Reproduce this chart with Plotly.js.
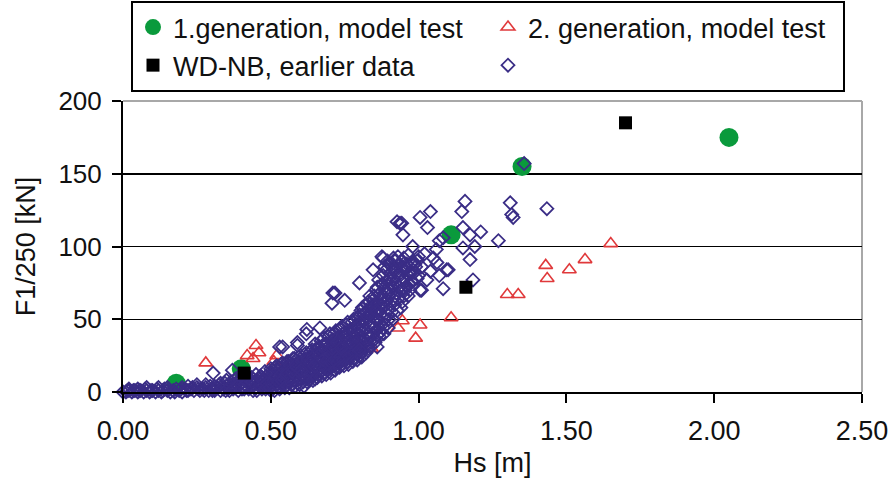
<!DOCTYPE html>
<html>
<head>
<meta charset="utf-8">
<script src="https://cdn.plot.ly/plotly-3.0.1.min.js"></script>
<style>html,body{margin:0;padding:0;background:#fff;}#chart{width:894px;height:482px;}</style>
</head>
<body>
<div id="chart"></div>
<script>
// 1. generation, model test
const gen1Hs = [0.18, 0.40, 1.11, 1.35, 2.05];
const gen1F  = [6, 16, 108, 155, 175];

// 2. generation, model test
const gen2Hs = [0.28, 0.42, 0.45, 0.46, 0.44, 0.52, 0.51, 0.84, 0.93, 0.945, 0.99, 1.005, 1.11, 1.30, 1.337, 1.43, 1.435, 1.51, 1.563, 1.65];
const gen2F  = [20, 25, 32, 27, 23, 25, 21, 30, 44, 49, 37, 46, 51, 67, 67, 87, 78, 84, 91, 102];

// WD-NB, earlier data
const wdHs = [0.41, 1.16, 1.70];
const wdF  = [13, 72, 185];

// Unnamed diamond series [Hs, F]
const diamondPoints = [
 [0.00,0],[0.01,0],[0.02,1],[0.02,2],[0.03,0],[0.04,1],[0.05,0],[0.05,2],[0.06,1],[0.07,0],[0.08,1],[0.08,3],
 [0.09,0],[0.10,1],[0.11,0],[0.12,1],[0.12,3],[0.13,0],[0.14,2],[0.15,1],[0.15,3],[0.16,0],[0.17,1],[0.18,2],
 [0.19,1],[0.20,0],[0.20,3],[0.21,2],[0.22,1],[0.22,4],[0.23,2],[0.24,1],[0.25,3],[0.25,5],[0.26,1],[0.27,2],
 [0.28,3],[0.28,5],[0.29,1],[0.30,2],
 [0.015,1],[0.035,1],[0.055,1],[0.075,2],[0.095,1],[0.115,2],[0.135,1],[0.155,2],[0.175,0],[0.195,2],[0.215,1],
 [0.235,3],[0.255,2],[0.275,1],[0.295,4],
 [0.31,1],[0.31,4],[0.32,3],[0.33,1],[0.33,6],[0.34,2],[0.35,4],[0.35,8],[0.36,1],[0.37,5],[0.38,3],[0.38,9],
 [0.39,1],[0.40,6],[0.40,10],[0.41,2],[0.42,4],[0.42,11],[0.43,7],[0.44,1],[0.44,9],[0.45,3],[0.45,12],[0.46,6],
 [0.47,2],[0.47,10],[0.48,8],[0.48,14],[0.49,4],[0.50,1],[0.50,11],[0.50,16],
 [0.305,3],[0.325,5],[0.345,6],[0.355,2],[0.365,7],[0.375,3],[0.385,6],[0.395,8],[0.405,4],[0.415,8],[0.425,2],
 [0.435,10],[0.445,5],[0.455,8],[0.465,11],[0.475,5],[0.485,11],[0.495,7],[0.495,13],
 [0.3025,1],[0.3125,2],[0.3375,3],[0.3475,1],[0.3625,4],[0.3725,2],[0.3875,4],[0.4025,2],[0.4125,5],[0.4325,4],
 [0.4375,7],[0.4525,1],[0.4625,4],[0.4725,8],[0.4825,2],[0.4875,6],[0.4975,3],
 [0.51,3],[0.51,8],[0.51,14],[0.52,5],[0.52,12],[0.52,18],[0.53,2],[0.53,9],[0.53,16],[0.54,6],[0.54,13],[0.54,20],
 [0.55,4],[0.55,10],[0.55,17],[0.56,7],[0.56,14],[0.56,21],[0.57,5],[0.57,11],[0.57,19],[0.58,8],[0.58,15],[0.58,23],
 [0.59,6],[0.59,12],[0.59,20],[0.60,9],[0.60,17],[0.60,25],
 [0.505,5],[0.505,13],[0.515,10],[0.515,17],[0.525,7],[0.525,15],[0.535,12],[0.535,19],[0.545,9],[0.545,16],
 [0.555,7],[0.555,14],[0.555,21],[0.565,10],[0.565,18],[0.575,8],[0.575,16],[0.575,23],[0.585,11],[0.585,19],
 [0.595,9],[0.595,16],[0.595,24],
 [0.5125,1],[0.5275,4],[0.5375,8],[0.5475,3],[0.5525,12],[0.5625,3],[0.5725,14],[0.5825,4],[0.5875,17],[0.5975,5],
 [0.61,7],[0.61,14],[0.61,22],[0.62,10],[0.62,18],[0.62,27],[0.63,8],[0.63,15],[0.63,24],[0.64,11],[0.64,20],[0.64,29],
 [0.65,9],[0.65,17],[0.65,26],[0.65,33],[0.66,12],[0.66,21],[0.66,30],[0.67,14],[0.67,23],[0.67,35],[0.68,13],[0.68,19],
 [0.68,28],[0.68,37],[0.69,15],[0.69,25],[0.69,33],[0.70,16],[0.70,22],[0.70,30],[0.70,40],
 [0.605,12],[0.605,21],[0.615,10],[0.615,18],[0.615,26],[0.625,13],[0.625,22],[0.635,11],[0.635,19],[0.635,28],
 [0.645,15],[0.645,24],[0.655,13],[0.655,21],[0.655,30],[0.665,16],[0.665,26],[0.675,18],[0.675,28],[0.675,32],
 [0.685,16],[0.685,24],[0.685,33],[0.695,19],[0.695,29],[0.695,38],
 [0.6025,15],[0.6125,4],[0.6225,7],[0.6325,20],[0.6425,8],[0.6475,18],[0.6575,10],[0.6625,25],[0.6725,11],[0.6775,22],
 [0.6875,12],[0.6925,21],
 [0.71,18],[0.71,27],[0.71,36],[0.72,17],[0.72,24],[0.72,32],[0.72,42],[0.73,20],[0.73,29],[0.73,38],[0.74,19],[0.74,26],
 [0.74,35],[0.74,45],[0.75,22],[0.75,31],[0.75,41],[0.76,21],[0.76,28],[0.76,37],[0.76,48],[0.77,24],[0.77,33],[0.77,43],
 [0.78,23],[0.78,30],[0.78,39],[0.78,50],[0.79,26],[0.79,35],[0.79,46],[0.80,25],[0.80,32],[0.80,42],[0.80,53],
 [0.705,20],[0.705,26],[0.705,35],[0.715,22],[0.715,31],[0.715,40],[0.725,20],[0.725,28],[0.725,37],[0.735,24],
 [0.735,33],[0.735,43],[0.745,22],[0.745,30],[0.745,40],[0.755,26],[0.755,36],[0.755,46],[0.765,24],[0.765,32],
 [0.765,42],[0.775,28],[0.775,38],[0.775,48],[0.785,27],[0.785,35],[0.785,45],[0.795,30],[0.795,40],[0.795,51],
 [0.7025,13],[0.7075,30],[0.7175,15],[0.7225,34],[0.7325,17],[0.7375,30],[0.7475,18],[0.7525,38],[0.7625,19],
 [0.7675,34],[0.7775,21],[0.7825,42],[0.7925,22],[0.7975,36],
 [0.81,28],[0.81,38],[0.81,49],[0.81,58],[0.82,31],[0.82,44],[0.82,55],[0.83,30],[0.83,40],[0.83,51],[0.83,62],[0.84,34],
 [0.84,47],[0.84,58],[0.85,36],[0.85,44],[0.85,55],[0.85,66],[0.86,39],[0.86,50],[0.86,62],[0.86,72],[0.87,41],[0.87,53],
 [0.87,68],[0.88,44],[0.88,58],[0.88,74],[0.88,80],[0.89,46],[0.89,62],[0.89,70],[0.89,84],[0.90,50],[0.90,57],[0.90,66],
 [0.90,78],[0.90,88],
 [0.805,29],[0.805,37],[0.805,47],[0.805,56],[0.815,33],[0.815,43],[0.815,53],[0.825,35],[0.825,48],[0.825,60],
 [0.835,37],[0.835,45],[0.835,56],[0.835,66],[0.845,40],[0.845,52],[0.845,63],[0.855,42],[0.855,50],[0.855,60],
 [0.855,70],[0.865,44],[0.865,56],[0.865,67],[0.865,77],[0.875,46],[0.875,60],[0.875,74],[0.885,50],[0.885,65],
 [0.885,86],[0.895,53],[0.895,68],[0.895,76],[0.895,90],
 [0.8075,24],[0.8125,45],[0.8225,27],[0.8275,52],[0.8375,31],[0.8425,60],[0.8525,34],[0.8575,56],[0.8675,38],
 [0.8725,64],[0.8825,40],[0.8875,70],[0.8975,44],
 [0.91,55],[0.91,72],[0.91,86],[0.92,60],[0.92,75],[0.92,90],[0.93,64],[0.93,80],[0.93,93],[0.94,58],[0.94,70],[0.94,85],
 [0.95,66],[0.95,78],[0.95,92],[0.96,73],[0.96,88],[0.97,70],[0.97,82],[0.98,76],[0.98,90],[0.99,86],[1.00,80],[1.00,93],
 [0.905,60],[0.905,70],[0.905,82],[0.915,64],[0.915,78],[0.915,92],[0.925,68],[0.925,84],[0.935,72],[0.935,88],
 [0.945,62],[0.945,76],[0.945,90],[0.955,70],[0.955,84],[0.965,66],[0.965,80],[0.965,94],[0.975,76],[0.975,88],
 [0.985,82],[0.995,78],[0.995,90],
 [0.9025,74],[0.9125,50],[0.9175,84],[0.9275,56],[0.9375,80],[0.9475,70],[0.9575,86],[0.9675,74],[0.9775,82],[0.9875,88],
 [1.02,95],[1.05,92],[1.06,98],[1.01,86],[1.04,83],[1.07,80],
 [0.927,117],[0.937,116],[0.943,116],[0.947,108],[0.88,92],[0.876,93],[0.846,84],[0.80,75],[0.717,68],[0.71,68],
 [0.707,61],[0.75,63],[0.86,31],[0.80,29],[0.305,13],[0.37,15],[0.53,31],[0.59,32],[0.62,40],[0.622,43],[0.666,44],
 [0.59,34],[0.54,31],
 [1.04,124],[1.005,120],[1.03,113],[0.98,100],[1.062,89],[1.028,77],[1.005,70],[1.10,84],[1.083,106],[1.083,71],
 [1.07,104],[1.095,84],[1.01,70],
 [1.157,131],[1.146,124],[1.31,130],[1.315,122],[1.32,120],[1.434,126],[1.15,113],[1.21,110],[1.174,108],[1.27,104],
 [1.15,99],[1.19,100],[1.174,91],[1.184,77],[1.357,157]
];
const diamondHs = diamondPoints.map(p => p[0]);
const diamondF  = diamondPoints.map(p => p[1]);

const xTicks = [0, 0.5, 1.0, 1.5, 2.0, 2.5];
const yTicks = [0, 50, 100, 150, 200];

const font = 'Liberation Sans, Arial, sans-serif';

const traces = [
  {x: gen1Hs, y: gen1F, type: 'scatter', mode: 'markers', name: '1.generation, model test', legendrank: 1,
   marker: {symbol: 'circle', size: 19, color: '#0a9a3c'}, cliponaxis: false},
  {x: gen2Hs, y: gen2F, type: 'scatter', mode: 'markers', name: '2. generation, model test', legendrank: 2,
   marker: {symbol: 'triangle-up-open', size: 12, color: '#e0393b', line: {width: 1.6}}, cliponaxis: false},
  {x: diamondHs, y: diamondF, type: 'scatter', mode: 'markers', name: ' ', legendrank: 4,
   marker: {symbol: 'diamond-open', size: 10, color: '#3a2d86', line: {width: 1.8}}, cliponaxis: false},
  {x: wdHs, y: wdF, type: 'scatter', mode: 'markers', name: 'WD-NB, earlier data', legendrank: 3,
   marker: {symbol: 'square', size: 13, color: '#000000'}, cliponaxis: false}
];

const layout = {
  width: 894, height: 482,
  margin: {l: 122.5, r: 31.5, t: 100.5, b: 89.5},
  paper_bgcolor: '#ffffff', plot_bgcolor: '#ffffff',
  font: {family: font, size: 26, color: '#111111'},
  showlegend: true,
  legend: {
    orientation: 'h', xref: 'container', yref: 'container', x: 131/894, y: 1 - 1/482,
    xanchor: 'left', yanchor: 'top',
    entrywidth: 310, entrywidthmode: 'pixels',
    bordercolor: '#000000', borderwidth: 2, bgcolor: '#ffffff',
    font: {family: font, size: 27, color: '#111111'}
  },
  xaxis: {
    range: [0, 2.5], tickvals: xTicks, tickformat: '.2f',
    showgrid: false, zeroline: false,
    showline: true, linecolor: '#000000', linewidth: 2,
    ticks: 'outside', ticklen: 9, tickwidth: 2, tickcolor: '#000000', ticklabelstandoff: 5,
    tickfont: {family: font, size: 27, color: '#111111'},
    title: {text: 'Hs [m]', font: {family: font, size: 27, color: '#111111'}, standoff: 8}
  },
  yaxis: {
    range: [0, 200], tickvals: yTicks,
    showgrid: true, gridcolor: '#000000', gridwidth: 1.5, zeroline: false,
    showline: true, linecolor: '#000000', linewidth: 2,
    ticks: 'outside', ticklen: 9, tickwidth: 2, tickcolor: '#000000', ticklabelstandoff: 5,
    tickfont: {family: font, size: 26, color: '#111111'},
    title: {text: 'F1/250 [kN]', font: {family: font, size: 27, color: '#111111'}, standoff: 15}
  },
  shapes: [
    {type: 'line', xref: 'paper', yref: 'paper', x0: 0, x1: 1, y0: 1, y1: 1, layer: 'between',
     line: {color: '#a8a8a8', width: 2}},
    {type: 'line', xref: 'paper', yref: 'paper', x0: 1, x1: 1, y0: 0, y1: 1, layer: 'between',
     line: {color: '#a8a8a8', width: 2}}
  ]
};

Plotly.newPlot('chart', traces, layout, {staticPlot: true, displayModeBar: false});
</script>
</body>
</html>
